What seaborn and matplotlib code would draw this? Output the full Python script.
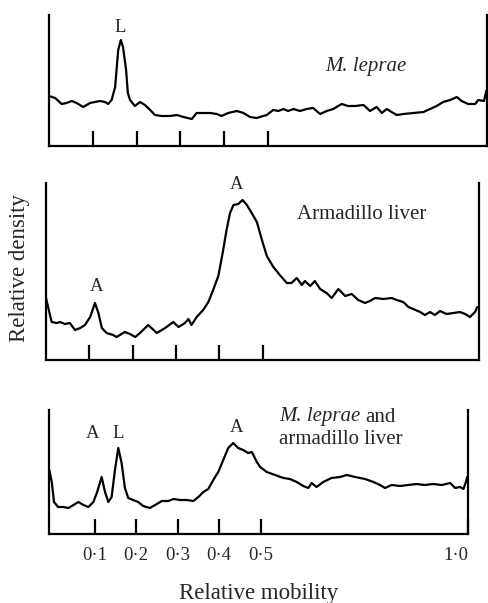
import matplotlib
matplotlib.use("Agg")
import matplotlib.pyplot as plt
import seaborn as sns

# Densitometer traces (relative mobility vs relative density, arbitrary units)
leprae_mob = [0.000, 0.014, 0.029, 0.040, 0.052, 0.063, 0.078, 0.094, 0.105, 0.116,
              0.128, 0.135, 0.143, 0.151, 0.158, 0.164, 0.169, 0.176, 0.180, 0.185,
              0.196, 0.208, 0.219, 0.231, 0.242, 0.257, 0.276, 0.292, 0.307, 0.326,
              0.337, 0.352, 0.368, 0.383, 0.394, 0.409, 0.429, 0.444, 0.459, 0.474,
              0.497, 0.512, 0.524, 0.535, 0.546, 0.558, 0.573, 0.588, 0.603, 0.619,
              0.634, 0.649, 0.668, 0.683, 0.699, 0.718, 0.733, 0.748, 0.760, 0.771,
              0.782, 0.794, 0.809, 0.832, 0.855, 0.870, 0.885, 0.900, 0.916, 0.931,
              0.942, 0.957, 0.973, 0.980, 0.993, 0.999]
leprae_den = [50, 48, 42, 43, 45, 43, 39, 43, 44, 45,
              44, 42, 46, 59, 96, 106, 99, 76, 53, 46,
              40, 44, 41, 36, 31, 30, 30, 31, 29, 27,
              33, 33, 33, 32, 30, 33, 35, 33, 29, 28,
              31, 36, 35, 37, 35, 37, 35, 37, 38, 32,
              35, 37, 42, 40, 40, 41, 35, 39, 33, 37,
              34, 31, 32, 33, 34, 37, 40, 44, 46, 49,
              45, 42, 42, 46, 45, 56]

liver_mob = [0.000, 0.013, 0.025, 0.032, 0.044, 0.055, 0.067, 0.079, 0.090, 0.102,
             0.113, 0.121, 0.129, 0.140, 0.155, 0.163, 0.182, 0.194, 0.206, 0.217,
             0.236, 0.256, 0.275, 0.294, 0.306, 0.321, 0.329, 0.336, 0.348, 0.363,
             0.375, 0.386, 0.398, 0.408, 0.417, 0.425, 0.433, 0.444, 0.454, 0.464,
             0.475, 0.487, 0.498, 0.510, 0.525, 0.540, 0.556, 0.567, 0.579, 0.591,
             0.598, 0.610, 0.621, 0.633, 0.648, 0.660, 0.675, 0.691, 0.706, 0.721,
             0.737, 0.748, 0.760, 0.779, 0.798, 0.810, 0.825, 0.837, 0.848, 0.864,
             0.875, 0.887, 0.898, 0.910, 0.925, 0.941, 0.956, 0.968, 0.979, 0.991,
             0.996]
liver_den = [62, 38, 37, 38, 36, 37, 30, 32, 35, 43,
             57, 47, 32, 27, 25, 23, 28, 26, 23, 27,
             35, 27, 32, 38, 33, 37, 41, 35, 43, 50,
             58, 70, 84, 107, 130, 147, 155, 156, 160, 155,
             147, 138, 121, 104, 93, 85, 77, 77, 82, 75,
             79, 74, 79, 71, 67, 62, 71, 64, 66, 60,
             57, 59, 62, 61, 62, 60, 58, 53, 51, 48,
             45, 48, 45, 49, 46, 47, 48, 46, 43, 48,
             53]

mixed_mob = [-0.009, -0.003, 0.002, 0.012, 0.024, 0.037, 0.049, 0.061, 0.073, 0.085,
             0.097, 0.106, 0.117, 0.125, 0.133, 0.141, 0.149, 0.157, 0.165, 0.173,
             0.181, 0.193, 0.205, 0.217, 0.233, 0.250, 0.262, 0.278, 0.290, 0.306,
             0.322, 0.338, 0.350, 0.362, 0.374, 0.386, 0.398, 0.410, 0.422, 0.434,
             0.446, 0.458, 0.470, 0.479, 0.491, 0.499, 0.515, 0.535, 0.555, 0.571,
             0.587, 0.603, 0.615, 0.623, 0.635, 0.651, 0.671, 0.691, 0.708, 0.728,
             0.752, 0.772, 0.788, 0.800, 0.816, 0.836, 0.856, 0.876, 0.896, 0.916,
             0.937, 0.957, 0.969, 0.981, 0.989, 0.995, 0.998]
mixed_den = [64, 51, 32, 27, 27, 26, 29, 32, 29, 27,
             32, 42, 57, 42, 32, 37, 64, 86, 71, 46,
             36, 34, 32, 28, 26, 30, 33, 33, 35, 34,
             34, 33, 37, 42, 45, 54, 62, 74, 86, 91,
             86, 84, 81, 82, 72, 67, 62, 59, 56, 55,
             52, 48, 46, 51, 47, 52, 56, 57, 59, 57,
             55, 52, 49, 46, 49, 48, 49, 50, 49, 50,
             49, 51, 46, 47, 45, 52, 57]

tick_pos = [0.1, 0.2, 0.3, 0.4, 0.5, 1.0]
tick_labels = ['0·1', '0·2', '0·3', '0·4', '0·5', '1·0']

sns.set_style("white")
plt.rcParams['font.family'] = ['Liberation Serif', 'DejaVu Serif']

W, H = 488, 603
fig = plt.figure(figsize=(W / 100, H / 100), dpi=100)


def add_panel(left, right, top, bottom):
    return fig.add_axes([left / W, 1 - bottom / H, (right - left) / W, (bottom - top) / H])


ax1 = add_panel(49, 487, 15, 146)
ax2 = add_panel(46, 479, 183, 360)
ax3 = add_panel(49, 468, 410, 534)

panels = [
    (ax1, leprae_mob, leprae_den, (0.0, 1.0), 131),
    (ax2, liver_mob, liver_den, (0.0, 1.0), 177),
    (ax3, mixed_mob, mixed_den, (-0.01, 1.0), 124),
]
for ax, xs, ys, xlim, ymax in panels:
    sns.lineplot(x=xs, y=ys, ax=ax, color='black', lw=1.6)
    ax.set_xlim(*xlim)
    ax.set_ylim(0, ymax)
    ax.set_yticks([])
    ax.spines['top'].set_visible(False)
    for s in ['left', 'bottom', 'right']:
        ax.spines[s].set_linewidth(1.6)
        ax.spines[s].set_color('black')
    ax.set_xticks(tick_pos[:5])
    ax.tick_params(axis='x', bottom=True, direction='in', length=11, width=1.6,
                   color='black', labelbottom=False)

# bottom panel carries the scale
ax3.set_xticks(tick_pos)
ax3.set_xticklabels(tick_labels)
ax3.tick_params(axis='x', labelbottom=True, labelsize=13.5, pad=9)
ax3.get_xticklabels()[-1].set_ha('right')
ax3.set_xlabel('Relative mobility', fontsize=16.5, labelpad=14)

fig.text(20 / W, 1 - 268 / H, 'Relative density', rotation=90,
         ha='center', va='center', fontsize=16.5)

# peak letters and sample names
pk = dict(ha='center', va='center', fontsize=13.5)
ax1.text(0.162, 119, 'L', **pk)
ax1.text(0.724, 79, 'M. leprae', ha='center', va='center', fontsize=15, style='italic')

ax2.text(0.117, 73, 'A', **pk)
ax2.text(0.439, 175, 'A', **pk)
ax2.text(0.730, 145, 'Armadillo liver', ha='center', va='center', fontsize=15)

ax3.text(0.094, 101, 'A', **pk)
ax3.text(0.156, 101, 'L', **pk)
ax3.text(0.441, 106, 'A', **pk)
t1 = ax3.text(0.544, 117, 'M. leprae', ha='left', va='center', fontsize=15, style='italic')
ax3.annotate('and', xy=(1, 0), xycoords=t1, xytext=(4, 0), textcoords='offset points',
             ha='left', va='bottom', fontsize=15)
ax3.text(0.544, 94, 'armadillo liver', ha='left', va='center', fontsize=15)

fig.savefig('out.png', dpi=100, facecolor='white')
